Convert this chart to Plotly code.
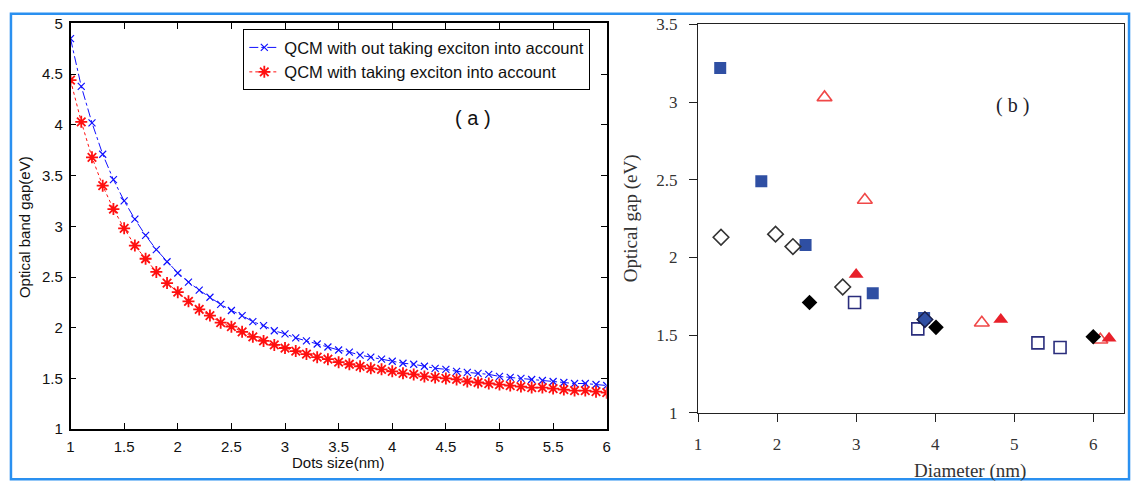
import plotly.graph_objects as go

# ---- panel (a): optical band gap vs dot size (QCM) ----
dots_size = [1.0, 1.1, 1.2, 1.3, 1.4, 1.5, 1.6, 1.7, 1.8, 1.9,
             2.0, 2.1, 2.2, 2.3, 2.4, 2.5, 2.6, 2.7, 2.8, 2.9,
             3.0, 3.1, 3.2, 3.3, 3.4, 3.5, 3.6, 3.7, 3.8, 3.9,
             4.0, 4.1, 4.2, 4.3, 4.4, 4.5, 4.6, 4.7, 4.8, 4.9,
             5.0, 5.1, 5.2, 5.3, 5.4, 5.5, 5.6, 5.7, 5.8, 5.9,
             6.0]
gap_no_exciton = [4.85, 4.38, 4.02, 3.71, 3.46, 3.25, 3.07, 2.91, 2.77, 2.65,
                  2.54, 2.45, 2.37, 2.30, 2.23, 2.17, 2.12, 2.06, 2.02, 1.97,
                  1.94, 1.90, 1.87, 1.84, 1.81, 1.78, 1.76, 1.73, 1.71, 1.69,
                  1.67, 1.65, 1.64, 1.62, 1.60, 1.59, 1.57, 1.56, 1.55, 1.54,
                  1.52, 1.51, 1.50, 1.49, 1.48, 1.47, 1.46, 1.45, 1.45, 1.44,
                  1.43]
gap_exciton = [4.44, 4.03, 3.68, 3.40, 3.17, 2.98, 2.81, 2.68, 2.55, 2.44,
               2.35, 2.26, 2.18, 2.12, 2.05, 2.01, 1.96, 1.91, 1.87, 1.83,
               1.80, 1.77, 1.74, 1.71, 1.69, 1.66, 1.64, 1.62, 1.60, 1.59,
               1.57, 1.55, 1.54, 1.52, 1.51, 1.50, 1.49, 1.47, 1.46, 1.45,
               1.44, 1.43, 1.42, 1.41, 1.41, 1.40, 1.39, 1.38, 1.38, 1.37,
               1.36]
label_no_exciton = "QCM with out taking exciton into account"
label_exciton = "QCM with taking exciton into account"

# ---- panel (b): reported optical gaps vs diameter ----
sq_fill_d = [1.28, 1.80, 2.36, 3.21, 3.86]
sq_fill_e = [3.22, 2.49, 2.08, 1.77, 1.61]
sq_open_d = [2.98, 3.78, 5.30, 5.58]
sq_open_e = [1.71, 1.54, 1.45, 1.42]
tri_open_d = [2.60, 3.11, 4.59, 6.09]
tri_open_e = [3.03, 2.37, 1.58, 1.47]
tri_fill_d = [3.00, 4.83, 6.20]
tri_fill_e = [1.89, 1.60, 1.48]
dia_open_d = [1.29, 1.98, 2.20, 2.83]
dia_open_e = [2.13, 2.15, 2.07, 1.81]
dia_fill_d = [2.41, 4.01, 6.00]
dia_fill_e = [1.71, 1.55, 1.49]
dia_blue_d = [3.87]
dia_blue_e = [1.60]

W, H = 1138, 493

fig = go.Figure()

# panel (a) curves
fig.add_trace(go.Scatter(
    x=dots_size, y=gap_no_exciton, mode="lines+markers", name=label_no_exciton,
    line=dict(color="#1010ff", width=1, dash="dashdot"),
    marker=dict(symbol="x-thin-open", size=7, color="#1010ff",
                line=dict(color="#1010ff", width=1.2)),
    xaxis="x", yaxis="y"))
fig.add_trace(go.Scatter(
    x=dots_size, y=gap_exciton, mode="lines+markers", name=label_exciton,
    line=dict(color="#ff1010", width=1, dash="dot"),
    marker=dict(symbol="asterisk-open", size=10, color="#ff1010",
                line=dict(color="#ff1010", width=1.8)),
    xaxis="x", yaxis="y"))

# panel (b) scatter groups
BLUE = "#2f4fa3"
NAVY = "#2a2d7c"
RED = "#e8202a"
LRED = "#f04848"


def add_b(xs, ys, symbol, size, fill, edge, ew):
    fig.add_trace(go.Scatter(
        x=xs, y=ys, mode="markers", showlegend=False,
        marker=dict(symbol=symbol, size=size, color=fill,
                    line=dict(color=edge, width=ew)),
        xaxis="x2", yaxis="y2"))


add_b(sq_fill_d, sq_fill_e, "square", 12, BLUE, BLUE, 0)
add_b(sq_open_d, sq_open_e, "square-open", 12, NAVY, NAVY, 1.6)
add_b(tri_open_d, tri_open_e, "triangle-up-open", 13, LRED, LRED, 1.6)
add_b(tri_fill_d, tri_fill_e, "triangle-up", 13, RED, RED, 0)
add_b(dia_open_d, dia_open_e, "diamond-open", 12, "#333333", "#333333", 1.6)
add_b(dia_fill_d, dia_fill_e, "diamond", 12, "#000000", "#000000", 0)
add_b(dia_blue_d, dia_blue_e, "diamond", 12, BLUE, "#1a1f4a", 1.5)

sans = "Liberation Sans, Arial, sans-serif"
serif = "Liberation Serif, Times New Roman, serif"

ax_a = dict(showgrid=False, zeroline=False, showline=True, linecolor="#000000",
            linewidth=1.5, mirror="ticks", ticks="inside", ticklen=6,
            tickwidth=1.2, tickcolor="#000000",
            tickfont=dict(family=sans, size=15, color="#111111"))
ax_b = dict(showgrid=False, zeroline=False, showline=True, linecolor="#222222",
            linewidth=1.2, mirror=True, ticks="outside", ticklen=8,
            tickwidth=1, tickcolor="#222222",
            tickfont=dict(family=serif, size=17, color="#333333"))

fig.update_layout(
    width=W, height=H,
    margin=dict(l=0, r=0, t=0, b=0),
    paper_bgcolor="white", plot_bgcolor="white",
    xaxis=dict(ax_a, domain=[67 / W, 607 / W], range=[1, 6],
               tickvals=[1, 1.5, 2, 2.5, 3, 3.5, 4, 4.5, 5, 5.5, 6],
               ticktext=["1", "1.5", "2", "2.5", "3", "3.5", "4", "4.5", "5", "5.5", "6"],
               ticklabelstandoff=3, anchor="y"),
    yaxis=dict(ax_a, domain=[1 - 437 / H, 1 - 15 / H], range=[1, 5],
               tickvals=[1, 1.5, 2, 2.5, 3, 3.5, 4, 4.5, 5],
               ticktext=["1", "1.5", "2", "2.5", "3", "3.5", "4", "4.5", "5"],
               ticklabelstandoff=3, anchor="x"),
    xaxis2=dict(ax_b, domain=[699 / W, 1128 / W], range=[1, 6.39],
                tickvals=[1, 2, 3, 4, 5, 6], ticklabelstandoff=8, anchor="y2"),
    yaxis2=dict(ax_b, domain=[1 - 420 / H, 1 - 16 / H], range=[1, 3.5],
                tickvals=[1, 1.5, 2, 2.5, 3, 3.5],
                ticktext=["1", "1.5", "2", "2.5", "3", "3.5"],
                ticklabelstandoff=8, anchor="x2"),
    legend=dict(x=241 / W, y=1 - 21 / H, xanchor="left", yanchor="top",
                bgcolor="white", bordercolor="#000000", borderwidth=1,
                font=dict(family=sans, size=16.5, color="#111111"),
                itemwidth=30, tracegroupgap=0),
    showlegend=True,
)

annotations = [
    dict(text="Dots size(nm)", x=337 / W, y=1 - 472 / H),
    dict(text="Optical band gap(eV)", x=20 / W, y=1 - 227 / H, textangle=-90),
    dict(text="( a )", x=472 / W, y=1 - 113 / H, font=dict(family=sans, size=20, color="#111111")),
    dict(text="Diameter (nm)", x=973 / W, y=1 - 481 / H,
         font=dict(family=serif, size=19, color="#333333")),
    dict(text="Optical gap (eV)", x=631 / W, y=1 - 218 / H, textangle=-90,
         font=dict(family=serif, size=19, color="#333333")),
    dict(text="( b )", x=1016 / W, y=1 - 100 / H, font=dict(family=serif, size=20, color="#1c1c2c")),
]
for a in annotations:
    a.update(xref="paper", yref="paper", xanchor="center", yanchor="middle", showarrow=False)
    a.setdefault("font", dict(family=sans, size=15, color="#111111"))
fig.update_layout(annotations=annotations)

# outer blue frame around both panels
fig.add_shape(type="rect", xref="paper", yref="paper",
              x0=7 / W, x1=1133 / W, y0=1 - 489 / H, y1=1 - 5 / H,
              line=dict(color="#2a90f0", width=2.5), fillcolor="rgba(0,0,0,0)",
              layer="above")

fig.write_html("out.html")
